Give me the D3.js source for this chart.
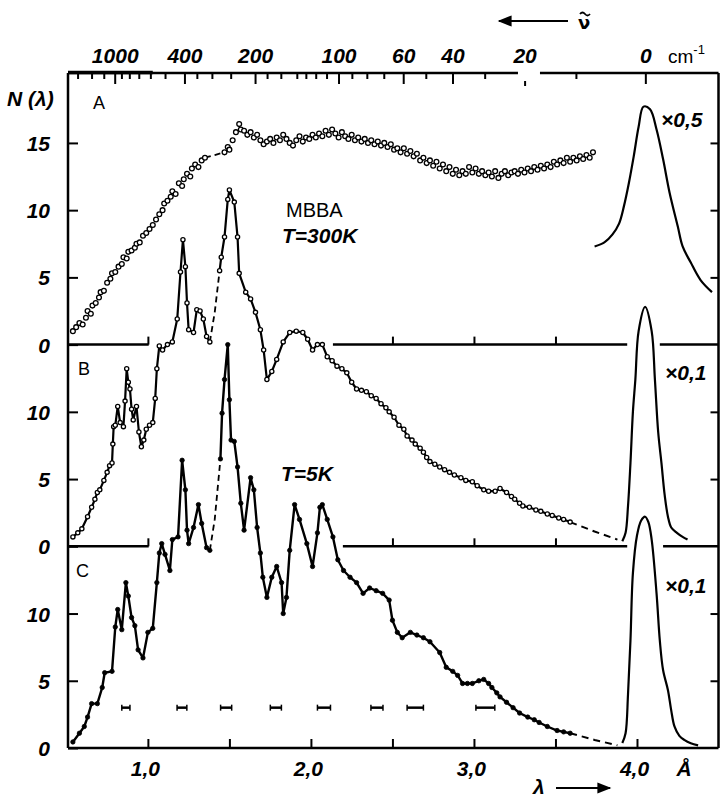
<!DOCTYPE html>
<html>
<head>
<meta charset="utf-8">
<script src="https://cdn.jsdelivr.net/npm/d3@7"></script>
<style>
  body { margin: 0; background: #fff; }
  svg { display: block; }
  .num { font-family: "Liberation Sans Narrow", "Liberation Sans", Arial, sans-serif; font-weight: bold; font-style: italic; font-size: 21px; fill: #000; }
  .plain { font-family: "Liberation Sans", Arial, sans-serif; fill: #000; }
</style>
</head>
<body>
<div id="chart"></div>
<script>
// N(lambda) spectra of MBBA, three panels stacked
var svgWidth = 720;
var svgHeight = 798;

// panel offsets in N units (each panel is shifted by 15)
var panelOffset = { A: 30, B: 15, C: 0 };

// neutron energy conversion: nu(cm-1) = K / lambda^2 - NU_ELASTIC
var NEUTRON_K = 659.8;
var NU_ELASTIC = 40.2;

// top axis (energy transfer, cm-1)
var nuMajor = [1000, 400, 200, 100, 60, 40, 20, 0];
var nuMinor = [2000, 1500, 1200, 900, 800, 700, 600, 500, 350, 300, 250, 180, 160, 140, 130, 120, 110, 90, 80, 70, 50, 30, 10];

// bottom axis (lambda, A)
var lamTicks = [1, 1.5, 2, 2.5, 3, 3.5, 4];
var lamLabels = { 1: "1,0", 2: "2,0", 3: "3,0", 4: "4,0" };
var zeroLineTicks = [1, 2.5, 3, 3.5];

// left / right axis ticks (N within a panel)
var leftTicks = [0, 5, 10, 15, 20, 25, 30, 35, 40, 45];
var rightTicks = [5, 10, 20, 25, 35, 40, 45];

// A: T = 300 K, open circles
var seriesA = [
  [0.54,1.0],[0.56,1.3],[0.58,1.6],[0.60,1.5],[0.62,2.0],[0.63,2.5],[0.65,2.3],[0.66,2.9],[0.68,3.1],[0.70,3.5],
  [0.71,3.9],[0.73,4.0],[0.75,4.6],[0.77,4.9],[0.78,5.3],[0.80,5.4],[0.82,5.8],[0.84,6.0],[0.85,6.5],[0.87,6.4],
  [0.88,6.9],[0.90,7.0],[0.92,7.2],[0.93,7.5],[0.95,7.6],[0.97,8.1],[0.99,8.3],[1.01,8.6],[1.03,8.9],[1.05,9.3],
  [1.07,9.7],[1.09,10.0],[1.10,10.5],[1.12,10.7],[1.14,11.0],[1.15,11.4],[1.17,11.2],[1.19,12.0],[1.21,11.8],[1.22,12.3],
  [1.24,12.7],[1.26,12.5],[1.27,13.1],[1.29,13.4],[1.31,13.2],[1.33,13.7],[1.35,13.9],
  [1.47,14.3],[1.49,14.7],[1.50,14.5],[1.52,15.2],[1.54,15.8],[1.56,16.4],[1.57,16.0],[1.59,15.9],[1.61,15.6],[1.63,15.8],
  [1.65,15.4],[1.67,15.6],[1.69,15.2],[1.71,14.9],[1.73,15.1],[1.75,15.3],[1.77,15.0],[1.79,15.4],[1.81,15.2],[1.83,15.6],
  [1.85,15.3],[1.87,15.0],[1.89,14.8],[1.91,15.2],[1.93,15.5],[1.95,15.1],[1.97,15.4],[1.99,15.3],[2.01,15.6],[2.03,15.4],
  [2.05,15.7],[2.07,15.5],[2.09,15.9],[2.11,15.6],[2.13,16.0],[2.15,15.7],[2.17,15.4],[2.19,15.8],[2.21,15.5],[2.23,15.3],
  [2.25,15.6],[2.27,15.2],[2.29,15.4],[2.31,15.1],[2.33,15.3],[2.35,15.0],[2.37,15.2],[2.39,14.9],[2.41,15.1],[2.43,14.8],
  [2.45,15.0],[2.47,14.7],[2.49,14.9],[2.51,14.5],[2.53,14.6],[2.55,14.3],[2.57,14.6],[2.59,14.2],[2.61,14.4],[2.63,14.0],
  [2.65,14.2],[2.67,13.7],[2.69,13.9],[2.71,13.5],[2.73,13.7],[2.75,13.3],[2.77,13.6],[2.79,13.1],[2.81,13.4],[2.83,12.9],
  [2.85,13.2],[2.87,12.7],[2.89,13.0],[2.91,12.6],[2.93,12.9],[2.95,12.7],[2.97,13.2],[2.99,12.8],[3.01,13.1],[3.03,12.7],
  [3.05,12.9],[3.07,12.6],[3.09,12.8],[3.11,12.5],[3.13,12.9],[3.15,12.4],[3.17,12.7],[3.19,12.9],[3.21,12.6],[3.23,12.8],
  [3.25,12.9],[3.27,12.7],[3.29,13.0],[3.31,12.8],[3.33,13.1],[3.35,12.9],[3.37,13.2],[3.39,13.0],[3.41,13.3],[3.43,13.1],
  [3.45,13.4],[3.47,13.2],[3.49,13.6],[3.51,13.4],[3.53,13.7],[3.55,13.5],[3.57,13.9],[3.59,13.6],[3.61,13.9],[3.63,13.7],
  [3.65,14.0],[3.67,13.8],[3.69,14.1],[3.71,13.9],[3.73,14.3]
];
var dashA = [[1.35,13.9],[1.41,14.1],[1.47,14.3]];
var elasticA = [
  [3.74,7.3],[3.80,7.6],[3.85,8.2],[3.89,9.0],[3.92,10.3],[3.95,12.0],[3.98,14.0],[4.01,16.2],[4.04,17.7],[4.08,17.5],
  [4.12,16.0],[4.16,13.8],[4.20,11.3],[4.25,8.8],[4.28,7.3],[4.33,6.1],[4.39,4.8],[4.46,3.9]
];

// B: T = 5 K, open circles joined by line
var seriesB1 = [
  [0.54,0.7],[0.57,1.0],[0.595,1.3],[0.63,2.2],[0.655,2.9],[0.675,3.5],[0.69,4.0],[0.705,4.2],[0.73,4.9],[0.75,5.5],
  [0.765,6.0],[0.78,6.2],[0.785,7.6],[0.79,8.9],[0.80,9.0],[0.815,10.4],[0.83,9.2],[0.85,8.9],[0.86,10.8],[0.87,13.2],
  [0.88,12.2],[0.89,11.7],[0.90,10.2],[0.91,9.4],[0.93,10.4],[0.945,8.5],[0.96,7.4],[0.975,7.9],[0.99,8.7],[1.01,9.0],
  [1.03,9.2],[1.045,11.0],[1.055,13.2],[1.07,14.9],[1.09,14.6],[1.12,15.0],[1.15,15.2],[1.18,16.9],[1.20,20.4],[1.215,22.8],
  [1.23,20.8],[1.24,18.1],[1.25,16.1],[1.28,15.9],[1.30,17.6],[1.32,17.5],[1.34,16.9],[1.36,15.6],[1.38,15.2]
];
var dashB1 = [[1.38,15.2],[1.41,17.4],[1.44,20.5]];
var seriesB2 = [
  [1.44,20.5],[1.45,21.5],[1.47,23.0],[1.49,25.8],[1.50,26.5],[1.53,25.6],[1.55,23.0],[1.56,20.3],[1.60,18.9],[1.63,18.4],
  [1.66,17.4],[1.69,16.1],[1.71,14.6],[1.73,12.4],[1.76,13.0],[1.79,13.9],[1.83,15.2],[1.87,15.9],[1.91,16.0],[1.95,15.9],
  [1.98,15.4],[2.01,14.6],[2.04,15.0],[2.07,15.0],[2.10,14.1],[2.13,13.8],[2.16,13.4],[2.19,13.2],[2.22,12.9],[2.25,12.2],
  [2.28,11.7],[2.31,11.6],[2.34,11.5],[2.37,11.2],[2.40,11.0],[2.43,10.6],[2.46,10.3],[2.48,10.0],[2.51,9.6],[2.54,9.0],
  [2.57,8.7],[2.59,8.2],[2.62,7.9],[2.64,7.6],[2.67,7.3],[2.69,7.0],[2.71,6.6],[2.73,6.3],[2.76,6.1],[2.79,5.9],
  [2.82,5.7],[2.85,5.5],[2.88,5.3],[2.92,5.1],[2.95,4.9],[2.99,4.8],[3.02,4.5],[3.06,4.2],[3.09,4.1],[3.13,4.1],
  [3.16,4.3],[3.20,4.0],[3.23,3.7],[3.25,3.5],[3.28,3.2],[3.30,3.0],[3.34,2.9],[3.38,2.7],[3.41,2.6],[3.45,2.4],
  [3.48,2.3],[3.52,2.1],[3.55,2.0],[3.59,1.8]
];
var dashB2 = [[3.59,1.8],[3.74,1.1],[3.88,0.5]];
var elasticB = [
  [3.91,0.37],[3.93,1.0],[3.945,3.0],[3.96,6.2],[3.975,10.0],[3.99,12.4],[4.01,16.0],[4.05,17.8],[4.09,16.0],[4.11,12.4],
  [4.13,8.5],[4.15,6.2],[4.17,3.8],[4.19,2.2],[4.21,1.4],[4.245,1.0],[4.28,0.7],[4.31,0.5]
];

// C: T = 5 K, filled dots joined by line
var seriesC1 = [
  [0.54,0.45],[0.58,1.1],[0.61,1.6],[0.63,2.3],[0.655,3.3],[0.69,3.3],[0.72,4.5],[0.735,5.6],[0.78,5.7],[0.80,9.0],
  [0.815,10.3],[0.84,8.8],[0.865,12.3],[0.88,11.3],[0.90,9.7],[0.92,9.1],[0.94,7.3],[0.97,6.7],[1.00,8.6],[1.03,8.9],
  [1.055,12.3],[1.07,14.5],[1.085,15.2],[1.105,14.4],[1.135,13.2],[1.15,15.5],[1.185,15.7],[1.21,21.4],[1.23,19.2],[1.24,16.2],
  [1.25,15.2],[1.28,16.4],[1.31,18.1],[1.33,16.7],[1.36,14.9],[1.38,14.7]
];
var dashC1 = [[1.38,14.7],[1.41,17.0],[1.445,21.5]];
var seriesC2 = [
  [1.445,21.5],[1.455,24.9],[1.47,27.4],[1.49,30.0],[1.50,25.9],[1.51,22.9],[1.53,22.8],[1.55,20.9],[1.57,18.2],[1.59,16.2],
  [1.63,20.1],[1.65,19.2],[1.67,16.4],[1.69,14.5],[1.705,12.7],[1.73,11.2],[1.76,12.7],[1.79,13.5],[1.82,12.3],[1.83,10.0],
  [1.85,11.2],[1.87,14.7],[1.90,18.1],[1.93,17.0],[1.975,15.2],[2.01,13.5],[2.04,16.0],[2.055,17.9],[2.07,18.1],[2.10,17.0],
  [2.135,15.7],[2.165,14.0],[2.20,13.2],[2.24,12.7],[2.28,12.3],[2.32,11.5],[2.36,11.9],[2.40,11.7],[2.44,11.5],[2.48,11.0],
  [2.50,9.5],[2.53,8.6],[2.56,8.2],[2.61,8.6],[2.65,8.4],[2.69,8.2],[2.73,7.9],[2.79,7.1],[2.83,6.0],[2.87,5.7],
  [2.90,5.4],[2.93,4.8],[2.96,4.8],[2.99,4.8],[3.03,5.0],[3.06,5.1],[3.09,4.8],[3.11,4.5],[3.14,4.1],[3.16,3.8],
  [3.20,3.4],[3.24,3.0],[3.28,2.6],[3.33,2.3],[3.37,2.1],[3.40,1.9],[3.45,1.6],[3.51,1.3],[3.55,1.2],[3.59,1.1]
];
var dashC2 = [[3.59,1.1],[3.74,0.6],[3.88,0.2]];
var elasticC = [
  [3.91,0.37],[3.93,1.1],[3.945,4.0],[3.96,8.0],[3.975,13.0],[4.00,15.8],[4.025,16.9],[4.05,17.2],[4.07,16.8],[4.09,15.5],
  [4.12,11.5],[4.14,8.0],[4.16,5.8],[4.19,4.3],[4.21,2.8],[4.23,1.6],[4.26,0.9],[4.29,0.6],[4.33,0.35],[4.375,0.2]
];

// wavelength resolution bars in panel C: [centre, half width]
var resBars = [[0.865,0.025],[1.209,0.03],[1.48,0.034],[1.785,0.034],[2.08,0.04],[2.405,0.037],[2.64,0.05],[3.07,0.058]];
var resLevel = 3.0;

// scales
var x = d3.scaleLinear().domain([0.51, 4.5]).range([68, 718.5]);
var y = d3.scaleLinear().domain([0, 50.2]).range([748, 73]);

function nuToLam(nu) { return Math.sqrt(NEUTRON_K / (nu + NU_ELASTIC)); }

var svg = d3.select("#chart")
  .append("svg")
  .attr("width", svgWidth)
  .attr("height", svgHeight);

function styleAxis(g) {
  g.selectAll(".domain").remove();
  g.selectAll(".tick line").attr("stroke", "#000").attr("stroke-width", 2);
  g.selectAll(".tick text").attr("class", "num").attr("font-family", null).attr("font-size", null);
}

function hline(l0, l1, yy, w) {
  svg.append("line")
    .attr("x1", x(l0)).attr("x2", x(l1))
    .attr("y1", yy).attr("y2", yy)
    .attr("stroke", "#000").attr("stroke-width", w || 2.5);
}

// frame: left and right
svg.append("line").attr("x1", x(0.51)).attr("x2", x(0.51)).attr("y1", y(50.2)).attr("y2", y(0))
  .attr("stroke", "#000").attr("stroke-width", 2.5);
svg.append("line").attr("x1", 718.5).attr("x2", 718.5).attr("y1", y(50.2)).attr("y2", y(0))
  .attr("stroke", "#000").attr("stroke-width", 2.5);

// top axis: wavenumber
hline(0.51, 3.27, y(50.2));
hline(3.405, 4.5, y(50.2));
hline(0.51, 1.03, y(50.2) - 0.5, 3.5);

var topMajor = svg.append("g")
  .attr("transform", `translate(0, ${y(50.2)})`)
  .call(d3.axisTop(x)
    .tickValues(nuMajor.map(nuToLam))
    .tickFormat(function(d, i) { return nuMajor[i]; })
    .tickSizeInner(-11).tickSizeOuter(0).tickPadding(10));
styleAxis(topMajor);
topMajor.selectAll(".tick line").filter(function(d, i) { return nuMajor[i] === 20; })
  .attr("y1", 8).attr("y2", 13);

var topMinor = svg.append("g")
  .attr("transform", `translate(0, ${y(50.2)})`)
  .call(d3.axisTop(x)
    .tickValues(nuMinor.map(nuToLam))
    .tickFormat("")
    .tickSizeInner(-6).tickSizeOuter(0));
styleAxis(topMinor);

svg.append("text").attr("class", "plain")
  .attr("x", 668).attr("y", 63).attr("font-size", 19)
  .text("cm")
  .append("tspan").attr("dy", -9).attr("font-size", 13).text("-1");

// arrow + nu with tilde
svg.append("defs").append("marker")
  .attr("id", "head").attr("viewBox", "0 0 10 10")
  .attr("refX", 9).attr("refY", 5)
  .attr("markerWidth", 9).attr("markerHeight", 7)
  .attr("orient", "auto-start-reverse")
  .append("path").attr("d", "M0,1 L10,5 L0,9 Z").attr("fill", "#000");

svg.append("line").attr("x1", 568).attr("x2", 499).attr("y1", 21).attr("y2", 21)
  .attr("stroke", "#000").attr("stroke-width", 2).attr("marker-end", "url(#head)");
svg.append("text").attr("x", 578).attr("y", 29)
  .attr("font-family", "DejaVu Sans, sans-serif").attr("font-weight", "bold").attr("font-size", 18)
  .text("\u03BD");
svg.append("path")
  .attr("d", "M580,14 q2.5,-3 5,0 t5,0")
  .attr("fill", "none").attr("stroke", "#000").attr("stroke-width", 1.8);

// bottom axis: lambda
hline(0.51, 4.5, y(0));
var bottom = svg.append("g")
  .attr("transform", `translate(0, ${y(0)})`)
  .call(d3.axisBottom(x)
    .tickValues(lamTicks)
    .tickFormat(function(d) { return lamLabels[d] || ""; })
    .tickSizeInner(-9).tickSizeOuter(0).tickPadding(13));
styleAxis(bottom);
bottom.selectAll(".tick text").attr("dx", -3);

svg.append("text").attr("class", "num").attr("x", 684).attr("y", 776).attr("text-anchor", "middle").text("\u00C5");
svg.append("text").attr("class", "num").attr("x", 533).attr("y", 794).attr("font-size", 17).text("\u03BB");
svg.append("line").attr("x1", 556).attr("x2", 610).attr("y1", 788).attr("y2", 788)
  .attr("stroke", "#000").attr("stroke-width", 2).attr("marker-end", "url(#head)");

// zero lines of panels A and B, broken where curves pass through
var zeroSegs = [
  { off: panelOffset.A, segs: [[0.51, 1.005], [2.135, 3.94], [4.14, 4.5]] },
  { off: panelOffset.B, segs: [[0.51, 1.005], [2.196, 3.94], [4.16, 4.5]] }
];
zeroSegs.forEach(function(z) {
  z.segs.forEach(function(s) { hline(s[0], s[1], y(z.off)); });
  var g = svg.append("g")
    .attr("transform", `translate(0, ${y(z.off)})`)
    .call(d3.axisBottom(x).tickValues(zeroLineTicks).tickFormat("").tickSizeInner(-8).tickSizeOuter(0));
  styleAxis(g);
});

// left axis
var left = svg.append("g")
  .attr("transform", `translate(${x(0.51)}, 0)`)
  .call(d3.axisLeft(y)
    .tickValues(leftTicks)
    .tickFormat(function(d) { return d >= 30 ? d - 30 : d >= 15 ? d - 15 : d; })
    .tickSizeInner(-10).tickSizeOuter(0).tickPadding(18));
styleAxis(left);
left.selectAll(".tick text").attr("dy", "0.36em");

// right axis
var right = svg.append("g")
  .attr("transform", "translate(718.5, 0)")
  .call(d3.axisRight(y).tickValues(rightTicks).tickFormat("").tickSizeInner(-8).tickSizeOuter(0));
styleAxis(right);

svg.append("text").attr("class", "num").attr("x", 7).attr("y", 106).attr("font-size", 19).text("N (\u03BB)");

// curves
function lineFor(off, curve) {
  return d3.line()
    .x(d => x(d[0]))
    .y(d => y(d[1] + off))
    .curve(curve || d3.curveLinear);
}

function drawLine(data, off, opts) {
  svg.append("path")
    .datum(data)
    .attr("d", lineFor(off, opts.curve))
    .attr("fill", "none")
    .attr("stroke", "#000")
    .attr("stroke-width", opts.width)
    .attr("stroke-dasharray", opts.dash || null)
    .attr("stroke-linejoin", "round");
}

function drawDots(data, off, r, filled, sw) {
  svg.append("g").selectAll("circle")
    .data(data)
    .enter()
    .append("circle")
    .attr("cx", d => x(d[0]))
    .attr("cy", d => y(d[1] + off))
    .attr("r", r)
    .attr("fill", filled ? "#000" : "#fff")
    .attr("stroke", "#000")
    .attr("stroke-width", sw);
}

// panel C
drawLine(seriesC1, panelOffset.C, { width: 2.4 });
drawLine(seriesC2, panelOffset.C, { width: 2.4 });
drawLine(dashC1, panelOffset.C, { width: 1.8, dash: "6,4" });
drawLine(dashC2, panelOffset.C, { width: 2, dash: "7,5" });
drawDots(seriesC1.concat(seriesC2), panelOffset.C, 2.2, true, 0.8);
drawLine(elasticC, panelOffset.C, { width: 2.2, curve: d3.curveCatmullRom });

// panel B
drawLine(seriesB1, panelOffset.B, { width: 2.2 });
drawLine(seriesB2, panelOffset.B, { width: 2.2 });
drawLine(dashB1, panelOffset.B, { width: 1.8, dash: "6,4" });
drawLine(dashB2, panelOffset.B, { width: 2, dash: "7,5" });
drawDots(seriesB1.concat(seriesB2), panelOffset.B, 2.1, false, 1.3);
drawLine(elasticB, panelOffset.B, { width: 2.2, curve: d3.curveCatmullRom });

// panel A
drawLine(dashA, panelOffset.A, { width: 1.8, dash: "6,4" });
drawDots(seriesA, panelOffset.A, 2.4, false, 1.3);
drawLine(elasticA, panelOffset.A, { width: 2.2, curve: d3.curveCatmullRom });

// resolution bars
var bars = svg.append("g").selectAll("g").data(resBars).enter().append("g");
bars.append("line")
  .attr("x1", d => x(d[0] - d[1])).attr("x2", d => x(d[0] + d[1]))
  .attr("y1", y(resLevel)).attr("y2", y(resLevel))
  .attr("stroke", "#000").attr("stroke-width", 2.5);
bars.append("line")
  .attr("x1", d => x(d[0] - d[1])).attr("x2", d => x(d[0] - d[1]))
  .attr("y1", y(resLevel) - 3).attr("y2", y(resLevel) + 3)
  .attr("stroke", "#000").attr("stroke-width", 1.5);
bars.append("line")
  .attr("x1", d => x(d[0] + d[1])).attr("x2", d => x(d[0] + d[1]))
  .attr("y1", y(resLevel) - 3).attr("y2", y(resLevel) + 3)
  .attr("stroke", "#000").attr("stroke-width", 1.5);

// labels
svg.append("text").attr("class", "plain").attr("x", 93).attr("y", 109).attr("font-size", 18).text("A");
svg.append("text").attr("class", "plain").attr("x", 78).attr("y", 375).attr("font-size", 18).text("B");
svg.append("text").attr("class", "plain").attr("x", 76).attr("y", 577).attr("font-size", 18).text("C");

svg.append("text").attr("class", "plain").attr("x", 286).attr("y", 217).attr("font-size", 20).text("MBBA");
svg.append("text").attr("class", "num").attr("x", 282).attr("y", 243).attr("font-size", 19).text("T=300K");
svg.append("text").attr("class", "num").attr("x", 281).attr("y", 481).attr("font-size", 19).text("T=5K");

var scaleNotes = [["\u00D70,5", 661, 127], ["\u00D70,1", 665, 380], ["\u00D70,1", 665, 593]];
scaleNotes.forEach(function(n) {
  svg.append("text").attr("class", "num").attr("x", n[1]).attr("y", n[2]).attr("font-size", 15).text(n[0]);
});
</script>
</body>
</html>
